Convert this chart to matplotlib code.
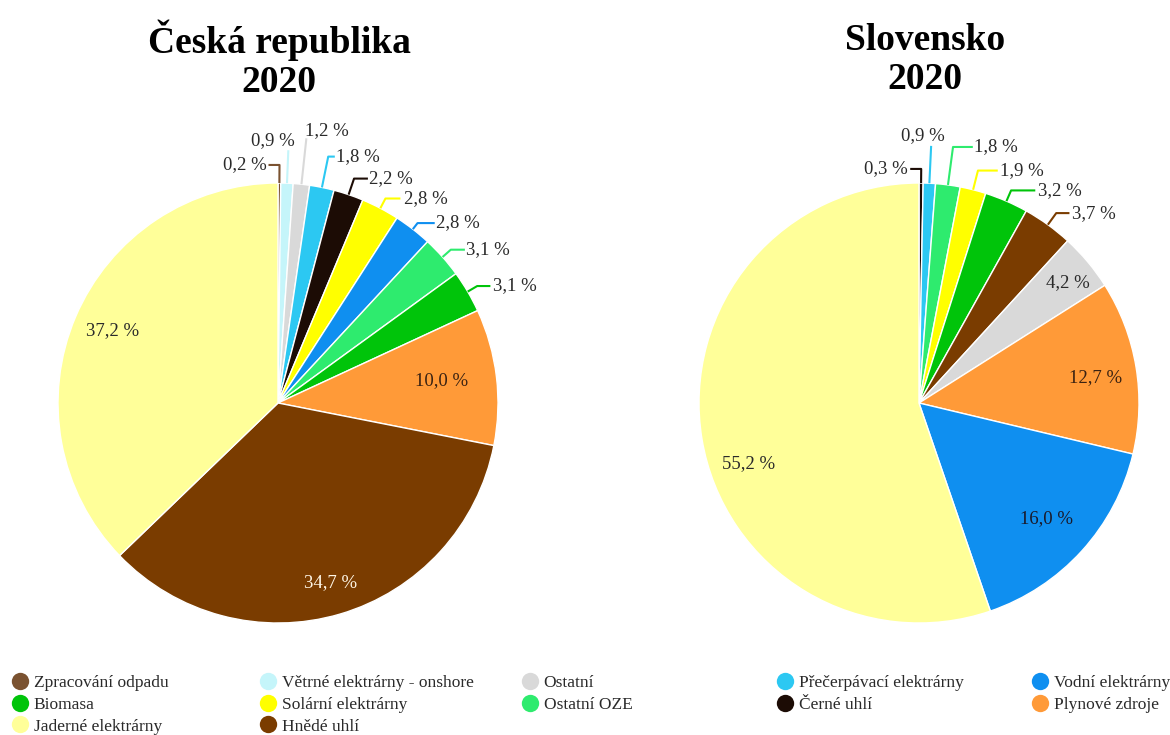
import numpy as np
import matplotlib.pyplot as plt
from matplotlib.lines import Line2D

plt.rcParams['font.family'] = ['Liberation Serif', 'DejaVu Serif']

W, H = 1170, 735
R_PX = 220.0  # pie radius in pixels

COLORS = {
    "Zpracování odpadu": "#7a5230",
    "Větrné elektrárny - onshore": "#c5f5fa",
    "Ostatní": "#d9d9d9",
    "Přečerpávací elektrárny": "#2cc8f2",
    "Černé uhlí": "#1c0c05",
    "Solární elektrárny": "#ffff00",
    "Vodní elektrárny": "#0f8ff0",
    "Ostatní OZE": "#2eeb6e",
    "Biomasa": "#00c40a",
    "Plynové zdroje": "#ff9a38",
    "Hnědé uhlí": "#7a3c00",
    "Jaderné elektrárny": "#ffff99",
}

CZ_LABELS = ["Zpracování odpadu", "Větrné elektrárny - onshore", "Ostatní",
             "Přečerpávací elektrárny", "Černé uhlí", "Solární elektrárny",
             "Vodní elektrárny", "Ostatní OZE", "Biomasa", "Plynové zdroje",
             "Hnědé uhlí", "Jaderné elektrárny"]
CZ_VALUES = [0.2, 0.9, 1.2, 1.8, 2.2, 2.8, 2.8, 3.1, 3.1, 10.0, 34.7, 37.2]

SK_LABELS = ["Černé uhlí", "Přečerpávací elektrárny", "Ostatní OZE",
             "Solární elektrárny", "Biomasa", "Hnědé uhlí", "Ostatní",
             "Plynové zdroje", "Vodní elektrárny", "Jaderné elektrárny"]
SK_VALUES = [0.3, 0.9, 1.8, 1.9, 3.2, 3.7, 4.2, 12.7, 16.0, 55.2]

LEGEND_COLUMNS = [
    ["Zpracování odpadu", "Biomasa", "Jaderné elektrárny"],
    ["Větrné elektrárny - onshore", "Solární elektrárny", "Hnědé uhlí"],
    ["Ostatní", "Ostatní OZE"],
    ["Přečerpávací elektrárny", "Černé uhlí"],
    ["Vodní elektrárny", "Plynové zdroje"],
]

# label layout: ("out", elbow_r, hline, text_dx, text_dy, ha) / ("in", r, dang, color)
CZ_LAYOUT = [
    ("out", 1.082, -0.05, -0.01, 0.0, "right"),
    ("out", 1.15, 0.0, -0.07, 0.045, "center"),
    ("out", 1.21, 0.0, -0.006, 0.035, "left"),
    ("out", 1.143, 0.03, 0.007, 0.0, "left"),
    ("out", 1.077, 0.063, 0.006, 0.0, "left"),
    ("out", 1.05, 0.068, 0.015, 0.0, "left"),
    ("out", 1.035, 0.078, 0.006, 0.0, "left"),
    ("out", 1.05, 0.064, 0.006, 0.0, "left"),
    ("out", 1.05, 0.06, 0.01, 0.0, "left"),
    ("in", 0.75, 0.9, "#3a2212"),
    ("in", 0.85, 0.0, "#fff6e6"),
    ("in", 0.82, -0.7, "#2a2a2a"),
]
SK_LAYOUT = [
    ("out", 1.064, -0.05, -0.01, 0.0, "right"),
    ("out", 1.17, 0.0, -0.037, 0.045, "center"),
    ("out", 1.174, 0.09, 0.006, 0.0, "left"),
    ("out", 1.09, 0.09, 0.012, 0.0, "left"),
    ("out", 1.053, 0.11, 0.012, 0.0, "left"),
    ("out", 1.065, 0.06, 0.01, 0.0, "left"),
    ("in", 0.87, -1.0, "#2a2a2a"),
    ("in", 0.81, -1.4, "#3a2212"),
    ("in", 0.78, 0.0, "#1a1a2a"),
    ("in", 0.82, 10.0, "#2a2a2a"),
]


def fmt(v):
    return f"{v:.1f}".replace(".", ",") + " %"


def pie_axes(fig, cx, cy, xlim, ylim):
    left = (cx + xlim[0] * R_PX) / W
    bottom = (H - (cy - ylim[0] * R_PX)) / H
    width = (xlim[1] - xlim[0]) * R_PX / W
    height = (ylim[1] - ylim[0]) * R_PX / H
    ax = fig.add_axes([left, bottom, width, height])
    ax.axis("off")
    return ax


def draw_pie(ax, labels, values, layout, xlim, ylim):
    colors = [COLORS[l] for l in labels]
    wedges, _ = ax.pie(values, colors=colors, startangle=90, counterclock=False,
                       radius=1.0, wedgeprops=dict(edgecolor="white", linewidth=1.0))
    for w, v, lay, c in zip(wedges, values, layout, colors):
        mid = (w.theta1 + w.theta2) / 2
        if lay[0] == "in":
            _, r, dang, tc = lay
            a = np.deg2rad(mid + dang)
            ax.text(r * np.cos(a), r * np.sin(a), fmt(v), ha="center", va="center",
                    fontsize=13.5, color=tc)
        else:
            _, er, hl, tdx, tdy, ha = lay
            a = np.deg2rad(mid)
            ex, ey = np.cos(a), np.sin(a)
            kx, ky = er * ex, er * ey
            ax.plot([ex, kx, kx + hl], [ey, ky, ky], color=c, lw=1.5,
                    solid_capstyle="butt", clip_on=False)
            ax.text(kx + hl + tdx, ky + tdy, fmt(v), ha=ha, va="center",
                    fontsize=13.5, color="#2a2a2a")
    ax.set_xlim(*xlim)
    ax.set_ylim(*ylim)
    ax.set_aspect("equal")


fig = plt.figure(figsize=(W / 100, H / 100), dpi=100)

cz_lims = ((-1.25, 1.35), (-1.2, 1.4))
ax1 = pie_axes(fig, 278, 403, *cz_lims)
draw_pie(ax1, CZ_LABELS, CZ_VALUES, CZ_LAYOUT, *cz_lims)

sk_lims = ((-1.25, 1.1), (-1.2, 1.4))
ax2 = pie_axes(fig, 919, 403, *sk_lims)
draw_pie(ax2, SK_LABELS, SK_VALUES, SK_LAYOUT, *sk_lims)

fig.text(279 / W, 1 - 60 / H, "Česká republika\n2020", ha="center", va="center",
         fontsize=27, fontweight="bold", linespacing=1.15)
fig.text(925 / W, 1 - 60 / H, "Slovensko\n2020", ha="center", va="center",
         fontsize=27, fontweight="bold", linespacing=1.15)

col_x = [12, 260, 522, 777, 1032]
for x, col in zip(col_x, LEGEND_COLUMNS):
    handles = [Line2D([], [], marker="o", ls="", markersize=12.5,
                      markerfacecolor=COLORS[n], markeredgecolor="none") for n in col]
    leg = fig.legend(handles, col, loc="upper left", bbox_to_anchor=(x / W, 1 - 675 / H),
                     frameon=False, fontsize=12.5, handlelength=0.9, handletextpad=0.35,
                     labelspacing=0.32, borderpad=0, borderaxespad=0)
    for t in leg.get_texts():
        t.set_color("#2a2a2a")

fig.savefig("out.png", dpi=100)
